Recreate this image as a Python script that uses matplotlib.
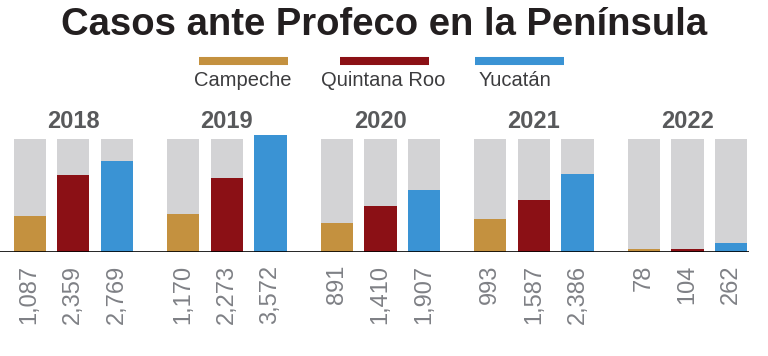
import numpy as np
import matplotlib
matplotlib.use('Agg')
import matplotlib.pyplot as plt
from matplotlib.lines import Line2D
import matplotlib.transforms as mtransforms

years = ['2018', '2019', '2020', '2021', '2022']
states = ['Campeche', 'Quintana Roo', 'Yucatán']
campeche = [1087, 1170, 891, 993, 78]
quintana_roo = [2359, 2273, 1410, 1587, 104]
yucatan = [2769, 3572, 1907, 2386, 262]
background = 3450  # gray reference bar height

colors = ['#C4913F', '#8B1015', '#3A93D4']
gray = '#D3D3D5'
sans = ['Liberation Sans', 'DejaVu Sans']

W, H = 768, 356
fig = plt.figure(figsize=(W / 100, H / 100), dpi=100)

# axes: baseline at y=252px, top (max value) at y=135px, x from 0 to 749px
ax = fig.add_axes([0, (H - 252) / H, 749 / W, 117 / H])

group_step = 3.52
series = [campeche, quintana_roo, yucatan]
xs_all, labels_all = [], []
for g in range(len(years)):
    for i, vals in enumerate(series):
        x = g * group_step + i
        ax.bar(x, background, width=0.74, color=gray, zorder=1)
        ax.bar(x, vals[g], width=0.74, color=colors[i], zorder=2)
        xs_all.append(x)
        labels_all.append(f'{vals[g]:,}')

ax.set_xlim(-0.68, (len(years) - 1) * group_step + 2 + 0.41)
ax.set_ylim(0, max(yucatan))
ax.axhline(0, color='black', lw=1.2, zorder=3)

for s in ax.spines.values():
    s.set_visible(False)
ax.set_yticks([])
ax.set_xticks(xs_all)
ax.set_xticklabels(labels_all, rotation=90, va='top', ha='center',
                   fontsize=17, color='#7E8085', family=sans)
ax.tick_params(axis='x', length=0, pad=9)

# year headers
trans = mtransforms.blended_transform_factory(ax.transData, ax.transAxes)
for g, y in enumerate(years):
    ax.text(g * group_step + 1, (252 - 121) / 117, y, transform=trans,
            ha='center', va='center', fontsize=17, fontweight='bold',
            color='#58595B', family=sans, clip_on=False)

# title
fig.text(0.5, 1 - 25 / H, 'Casos ante Profeco en la Península', ha='center',
         va='center', fontsize=27.5, fontweight='bold', color='#231F20',
         family=sans)

# legend: color strip above label
leg_x = [(199, 288), (340, 429), (475, 564)]
leg_lbl = [243, 383, 515]
for (x0, x1), xc, lbl, c in zip(leg_x, leg_lbl, states, colors):
    fig.add_artist(Line2D([x0 / W, x1 / W], [1 - 61 / H] * 2, color=c, lw=5.8,
                          solid_capstyle='butt'))
    fig.text(xc / W, 1 - 80 / H, lbl, ha='center', va='center', fontsize=14.5,
             color='#3C3C3E', family=sans)

fig.savefig('out.png', dpi=100)
